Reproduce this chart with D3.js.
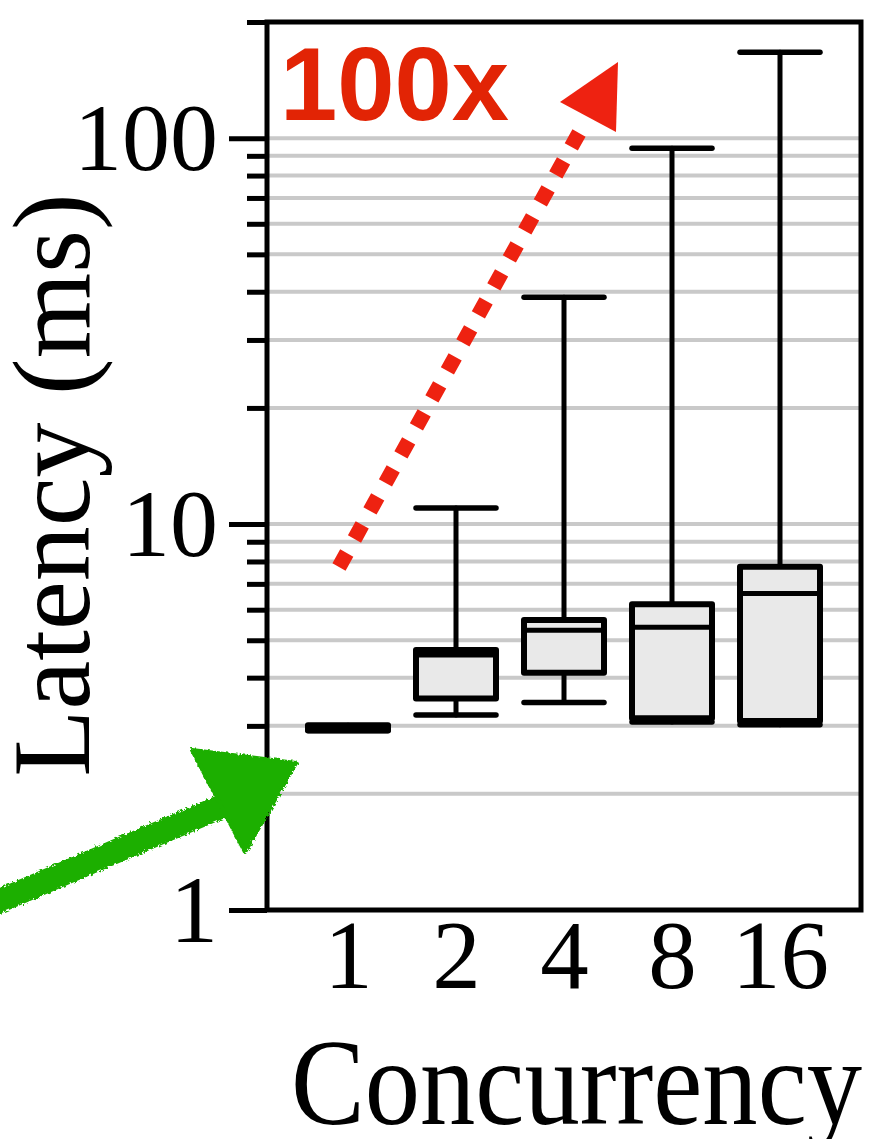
<!DOCTYPE html>
<html lang="en">
<head>
  <meta charset="UTF-8">
  <title>Latency vs Concurrency</title>
  <script src="https://d3js.org/d3.v7.min.js"></script>
  <style>
    body { margin: 0; background: white; }
    svg { display: block; }
  </style>
</head>
<body>
  <script>
    // Box plot data (ms)
    const concurrency = ["1", "2", "4", "8", "16"];
    const whiskerLow = [2.92, 3.20, 3.45, 3.07, 3.02];
    const quartile1 = [2.92, 3.53, 4.12, 3.14, 3.09];
    const medians = [2.96, 4.58, 5.31, 5.40, 6.61];
    const quartile3 = [3.01, 4.72, 5.64, 6.20, 7.75];
    const whiskerHigh = [3.00, 11.0, 38.7, 94.2, 167];

    const majorTicks = [1, 10, 100];
    const minorTicks = [2, 3, 4, 5, 6, 7, 8, 9, 20, 30, 40, 50, 60, 70, 80, 90, 200];
    const gridValues = [2, 3, 4, 5, 6, 7, 8, 9, 10, 20, 30, 40, 50, 60, 70, 80, 90, 100];

    const W = 872, H = 1139;
    const margin = { left: 267, right: 11, top: 22, bottom: 229 };

    const svg = d3.select("body").append("svg")
      .attr("width", W)
      .attr("height", H);

    const x = d3.scalePoint()
      .domain(concurrency)
      .range([margin.left, W - margin.right])
      .padding(0.75);

    const y = d3.scaleLog()
      .domain([1, 200])
      .range([H - margin.bottom, margin.top]);

    const serif = "'Liberation Serif', 'Times New Roman', serif";

    // gridlines
    svg.append("g")
      .selectAll("line")
      .data(gridValues)
      .join("line")
      .attr("x1", margin.left)
      .attr("x2", W - margin.right)
      .attr("y1", d => y(d))
      .attr("y2", d => y(d))
      .attr("stroke", "#c9c9c9")
      .attr("stroke-width", 4);

    // boxes
    const boxW = 80;
    const rows = concurrency.map((c, i) => ({
      c, lo: whiskerLow[i], q1: quartile1[i], med: medians[i], q3: quartile3[i], hi: whiskerHigh[i]
    }));

    const g = svg.append("g")
      .attr("stroke", "black")
      .attr("stroke-linecap", "round");

    const box = g.selectAll("g.box")
      .data(rows)
      .join("g")
      .attr("class", "box");

    // whisker stems
    box.append("line")
      .attr("x1", d => x(d.c)).attr("x2", d => x(d.c))
      .attr("y1", d => y(d.hi)).attr("y2", d => y(d.q3))
      .attr("stroke-width", 5);
    box.append("line")
      .attr("x1", d => x(d.c)).attr("x2", d => x(d.c))
      .attr("y1", d => y(d.lo)).attr("y2", d => y(d.q1))
      .attr("stroke-width", 5);

    // caps
    box.selectAll("line.cap")
      .data(d => [[d.c, d.hi], [d.c, d.lo]])
      .join("line")
      .attr("class", "cap")
      .attr("x1", d => x(d[0]) - boxW / 2)
      .attr("x2", d => x(d[0]) + boxW / 2)
      .attr("y1", d => y(d[1]))
      .attr("y2", d => y(d[1]))
      .attr("stroke-width", 5.5);

    box.append("rect")
      .attr("x", d => x(d.c) - boxW / 2)
      .attr("width", boxW)
      .attr("y", d => y(d.q3))
      .attr("height", d => Math.max(0.5, y(d.q1) - y(d.q3)))
      .attr("fill", "#e9e9e9")
      .attr("stroke-width", 6)
      .attr("stroke-linejoin", "round");

    box.append("line")
      .attr("x1", d => x(d.c) - boxW / 2)
      .attr("x2", d => x(d.c) + boxW / 2)
      .attr("y1", d => y(d.med))
      .attr("y2", d => y(d.med))
      .attr("stroke-width", 5)
      .attr("stroke-linecap", "butt");

    // frame
    svg.append("rect")
      .attr("x", margin.left)
      .attr("y", margin.top)
      .attr("width", W - margin.right - margin.left)
      .attr("height", H - margin.bottom - margin.top)
      .attr("fill", "none")
      .attr("stroke", "black")
      .attr("stroke-width", 5);

    // y axis: minor then major ticks
    const yMinor = svg.append("g")
      .attr("transform", `translate(${margin.left},0)`)
      .call(d3.axisLeft(y).tickValues(minorTicks).tickSize(20).tickFormat(""));
    const yMajor = svg.append("g")
      .attr("transform", `translate(${margin.left},0)`)
      .call(d3.axisLeft(y).tickValues(majorTicks).tickSize(38).tickPadding(11).tickFormat(d3.format("d")));

    [yMinor, yMajor].forEach(ax => {
      ax.select(".domain").remove();
      ax.selectAll("line").attr("stroke", "black").attr("stroke-width", 5);
    });
    yMajor.selectAll("text")
      .attr("font-family", serif)
      .attr("font-size", 96)
      .attr("fill", "black")
      .attr("dy", "0.33em");

    // x axis labels
    const xAxis = svg.append("g")
      .attr("transform", `translate(0,${H - margin.bottom})`)
      .call(d3.axisBottom(x).tickSize(0).tickPadding(9));
    xAxis.select(".domain").remove();
    xAxis.selectAll("text")
      .attr("font-family", serif)
      .attr("font-size", 97)
      .attr("fill", "black");

    // axis titles
    svg.append("text")
      .attr("transform", `translate(89,485) rotate(-90)`)
      .attr("text-anchor", "middle")
      .attr("font-family", serif)
      .attr("font-size", 110)
      .text("Latency (ms)");

    svg.append("text")
      .attr("x", 291)
      .attr("y", 1124)
      .attr("font-family", serif)
      .attr("font-size", 122)
      .attr("textLength", 571)
      .attr("lengthAdjust", "spacingAndGlyphs")
      .text("Concurrency");

    // red annotation
    svg.append("text")
      .attr("x", 280)
      .attr("y", 120)
      .attr("font-family", "'Liberation Sans', Arial, sans-serif")
      .attr("font-weight", "bold")
      .attr("font-size", 103)
      .attr("fill", "#e22405")
      .text("100x");

    svg.append("line")
      .attr("x1", 339).attr("y1", 567)
      .attr("x2", 579).attr("y2", 133)
      .attr("stroke", "#ee2211")
      .attr("stroke-width", 15)
      .attr("stroke-dasharray", "16 16");

    svg.append("path")
      .attr("d", d3.line()([[560, 102], [618, 62], [616, 132]]) + "Z")
      .attr("fill", "#ee2211");

    // green hand-drawn arrow
    const defs = svg.append("defs");
    const rough = defs.append("filter").attr("id", "rough")
      .attr("x", "-10%").attr("y", "-10%").attr("width", "120%").attr("height", "120%");
    rough.append("feTurbulence")
      .attr("type", "fractalNoise")
      .attr("baseFrequency", 0.35)
      .attr("numOctaves", 2)
      .attr("seed", 3)
      .attr("result", "noise");
    rough.append("feDisplacementMap")
      .attr("in", "SourceGraphic")
      .attr("in2", "noise")
      .attr("scale", 5);

    const green = svg.append("g").attr("filter", "url(#rough)");
    green.append("path")
      .attr("d", d3.line().curve(d3.curveBasis)([[-10, 905], [100, 858], [225, 805]]))
      .attr("fill", "none")
      .attr("stroke", "#1faf00")
      .attr("stroke-width", 24);
    green.append("path")
      .attr("d", d3.line()([[192, 750], [296, 763], [245, 852]]) + "Z")
      .attr("fill", "#1faf00")
      .attr("stroke", "#1faf00")
      .attr("stroke-width", 4)
      .attr("stroke-linejoin", "round");
  </script>
</body>
</html>
